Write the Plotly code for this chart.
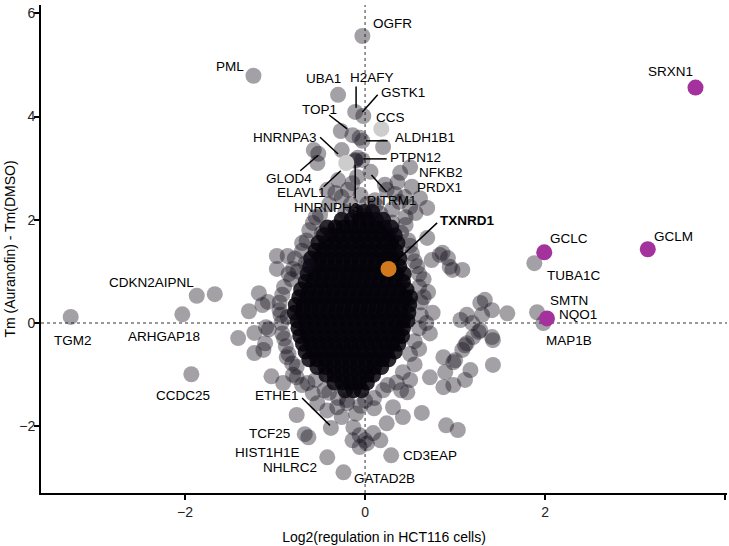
import plotly.graph_objects as go

# ---------------- data ----------------
# labelled proteins
genes = ["OGFR", "PML", "UBA1", "H2AFY", "GSTK1", "CCS", "TOP1", "ALDH1B1", "HNRNPA3",
         "GLOD4", "ELAVL1", "PTPN12", "HNRNPH3", "NFKB2", "PRDX1", "PITRM1", "TXNRD1",
         "GCLC", "TUBA1C", "GCLM", "SRXN1", "SMTN", "NQO1", "MAP1B", "CD3EAP", "GATAD2B",
         "NHLRC2", "HIST1H1E", "TCF25", "ETHE1", "CCDC25", "TGM2", "ARHGAP18", "CDKN2AIPNL"]
gene_x = [-0.03, -1.24, -0.30, -0.11, -0.02, 0.18, -0.27, -0.03, -0.26,
          -0.57, -0.21, -0.03, -0.11, 0.50, 0.52, 0.06, 0.26,
          1.99, 1.88, 3.14, 3.67, 1.91, 2.02, 1.98, 0.29, -0.24,
          -0.42, -0.63, -0.76, -0.38, -1.93, -3.27, -2.03, -1.87]
gene_y = [5.56, 4.79, 4.42, 4.09, 4.01, 3.76, 3.72, 3.53, 3.35,
          3.35, 3.10, 3.16, 3.14, 3.02, 2.64, 2.93, 1.05,
          1.37, 1.16, 1.43, 4.56, 0.21, 0.09, 0.00, -2.56, -2.89,
          -2.60, -2.21, -1.78, -2.03, -0.99, 0.12, 0.17, 0.53]
gene_group = ["grey", "grey", "grey", "grey", "grey", "light", "grey", "grey", "grey",
              "grey", "light", "grey", "grey", "grey", "grey", "grey", "target",
              "nrf2", "grey", "nrf2", "nrf2", "grey", "nrf2", "grey", "grey", "grey",
              "grey", "grey", "grey", "grey", "grey", "grey", "grey", "grey"]

# unlabelled proteins around the main cloud
other_x = [-0.14, -0.06, 0.20, -0.52, -0.53, -0.08, -0.09, -0.14, -0.19, -0.26, -0.33, -0.42,
           -0.30, 0.39, 0.36, 0.44, 0.61, 0.24, 0.56, 0.69, 0.69, 0.86, 0.92, 1.08, 0.94, 0.74,
           0.83, 0.97, -0.11, 0.22, 0.33, -0.05, 0.11, 0.50,
           -0.58, -0.48, -0.98, -0.86, -0.98, -0.80, -0.63, -0.66,
           -1.67, -1.18, -1.08, -1.29, -1.14, -0.94, -1.07, -1.10, -1.23, -1.41, -1.11, -1.23,
           -0.86, -1.04, -0.91, -0.76, -0.81, -1.13, -0.76, -0.87,
           -0.53, -0.42, -0.31, -0.26, -0.13, -0.06, 0.02, -0.14, -0.06, 0.17, -0.20, -0.64,
           -0.58, -0.67,
           0.09, 0.00, 0.24, 0.31, 0.42, 0.63, 0.47, 0.72, 0.90, 1.03, 0.87, 0.98, 1.11, 1.17,
           0.89, 1.00, 0.87, 1.08, 1.11, 1.26, 1.42, 1.42, 1.33, 1.28, 1.58, 1.41, 1.30, 1.13,
           1.06, 1.19, 1.28, 1.41, 1.20, 1.13, 0.98,
           0.65, 0.70, 0.62, 0.75, 0.68, 0.72, 0.60, 0.55, 0.50, 0.40, -0.90, -0.95, -0.92,
           -0.88, -0.80, -0.70, -0.70, -0.75, -0.65, -0.50, -0.40, 0.30, 0.45, 0.50, -0.45,
           -0.30, 0.00, 0.20, 0.10, -0.10, 0.55, 0.60, -0.85,
           0.30, 0.40, 0.48, 0.52, 0.58, 0.45, 0.38,
           -0.55, -0.62, -0.70, -0.78, -0.82, -0.92, -0.95, -0.93, -0.90, -0.85,
           0.60, 0.65, 0.62, 0.60, 0.55, 0.50, 0.42, 0.35,
           -0.55, -0.40, -0.20, 0.10, 0.25, -0.05,
           -0.16, 0.02, 0.12, -0.22, 0.17]
other_y = [3.64, 3.59, 3.41, 3.28, 3.10, 3.20, 2.83, 2.71, 2.58, 2.44, 2.52, 2.58,
           2.77, 2.91, 2.73, 2.44, 2.42, 2.58, 2.13, 2.23, 1.65, 1.36, 1.26, 1.03, 1.09, 1.22,
           1.32, 1.03, 3.16, 2.68, 2.50, 2.48, 2.38, 2.25,
           1.94, 1.74, 1.30, 1.30, 1.05, 1.05, 1.12, 1.16,
           0.56, 0.58, 0.41, 0.23, 0.35, 0.16, -0.12, -0.08, -0.19, -0.29, -0.39, -0.58,
           0.12, -1.03, -1.16, -1.05, -0.78, -0.52, -0.85, -0.66,
           -1.55, -1.69, -1.63, -1.82, -2.02, -2.17, -2.33, -2.27, -2.40, -2.27, -1.49, -1.16,
           -1.36, -2.15,
           -2.13, -2.27, -1.94, -1.63, -1.82, -1.74, -1.34, -1.05, -1.98, -2.07, -1.24, -1.20,
           -1.10, -0.91,
           -0.95, -0.72, -0.66, -0.52, -0.43, -0.17, -0.33, -0.81, 0.45, 0.39, 0.19, 0.25, 0.16,
           0.16, 0.06, 0.00, -0.14, -0.27, -0.27, -0.39, -0.76,
           0.85, 0.60, 0.40, 0.20, 0.00, -0.20, -0.50, -0.80, -1.10, -1.30, 0.70, 0.40, -0.20,
           -0.45, -1.00, -1.20, 1.40, 1.00, 1.60, 2.10, 2.30, 2.20, 1.90, 1.50, -1.30,
           -1.45, -1.50, -1.30, -1.65, -1.75, 1.20, 0.95, 0.95,
           1.95, 1.75, 1.60, 1.35, 1.10, 2.05, 2.35,
           2.05, 1.80, 1.55, 1.25, 0.85, 0.55, 0.25, 0.00, -0.30, -0.60,
           0.70, 0.50, 0.15, -0.10, -0.35, -0.60, -0.95, -1.15,
           -1.10, -1.35, -1.55, -1.45, -1.20, -1.60,
           2.30, 2.30, 2.28, 2.15, 2.12]

# dense core of the cloud, read row by row
core_row_y = [2.15, 2.00, 1.85, 1.70, 1.55, 1.40, 1.25, 1.10, 0.95, 0.80, 0.65, 0.50,
              0.35, 0.20, 0.05, -0.10, -0.25, -0.40, -0.55, -0.70, -0.85, -1.00, -1.15, -1.30]
core_row_x = [
    [-0.10, -0.01, 0.08],
    [-0.26, -0.15, -0.06, 0.03, 0.12, 0.20],
    [-0.42, -0.33, -0.24, -0.15, -0.06, 0.03, 0.12, 0.21, 0.29],
    [-0.46, -0.37, -0.28, -0.19, -0.10, -0.01, 0.08, 0.17, 0.26, 0.33],
    [-0.52, -0.43, -0.34, -0.25, -0.16, -0.07, 0.02, 0.11, 0.20, 0.29, 0.36],
    [-0.55, -0.46, -0.37, -0.28, -0.19, -0.10, -0.01, 0.08, 0.17, 0.26, 0.34],
    [-0.60, -0.51, -0.42, -0.33, -0.24, -0.15, -0.06, 0.03, 0.12, 0.21, 0.30, 0.38],
    [-0.61, -0.52, -0.43, -0.34, -0.25, -0.16, -0.07, 0.02, 0.11, 0.20, 0.29, 0.38],
    [-0.64, -0.55, -0.46, -0.37, -0.28, -0.19, -0.10, -0.01, 0.08, 0.17, 0.26, 0.35, 0.43],
    [-0.66, -0.57, -0.48, -0.39, -0.30, -0.21, -0.12, -0.03, 0.06, 0.15, 0.24, 0.33, 0.42],
    [-0.71, -0.62, -0.53, -0.44, -0.35, -0.26, -0.17, -0.08, 0.01, 0.10, 0.19, 0.28, 0.37, 0.46],
    [-0.73, -0.64, -0.55, -0.46, -0.37, -0.28, -0.19, -0.10, -0.01, 0.08, 0.17, 0.26, 0.35, 0.44, 0.50],
    [-0.77, -0.68, -0.59, -0.50, -0.41, -0.32, -0.23, -0.14, -0.05, 0.04, 0.13, 0.22, 0.31, 0.40, 0.49],
    [-0.78, -0.69, -0.60, -0.51, -0.42, -0.33, -0.24, -0.15, -0.06, 0.03, 0.12, 0.21, 0.30, 0.39, 0.48],
    [-0.75, -0.66, -0.57, -0.48, -0.39, -0.30, -0.21, -0.12, -0.03, 0.06, 0.15, 0.24, 0.33, 0.42, 0.47],
    [-0.74, -0.65, -0.56, -0.47, -0.38, -0.29, -0.20, -0.11, -0.02, 0.07, 0.16, 0.25, 0.34, 0.42],
    [-0.72, -0.63, -0.54, -0.45, -0.36, -0.27, -0.18, -0.09, 0.00, 0.09, 0.18, 0.27, 0.36, 0.41],
    [-0.69, -0.60, -0.51, -0.42, -0.33, -0.24, -0.15, -0.06, 0.03, 0.12, 0.21, 0.30, 0.37],
    [-0.66, -0.57, -0.48, -0.39, -0.30, -0.21, -0.12, -0.03, 0.06, 0.15, 0.24, 0.33],
    [-0.62, -0.53, -0.44, -0.35, -0.26, -0.17, -0.08, 0.01, 0.10, 0.19, 0.26],
    [-0.53, -0.44, -0.35, -0.26, -0.17, -0.08, 0.01, 0.10, 0.18],
    [-0.43, -0.34, -0.25, -0.16, -0.07, 0.02, 0.09],
    [-0.34, -0.25, -0.16, -0.07, 0.02],
    [-0.22, -0.13, -0.04],
]

x_ticks = [-2, 0, 2, 4]
y_ticks = [-2, 0, 2, 4, 6]

# ---------------- layout helpers (label placement) ----------------
label_pos = {
    "OGFR": (0.30, 5.81), "PML": (-1.50, 4.96), "UBA1": (-0.46, 4.73), "H2AFY": (0.08, 4.75),
    "GSTK1": (0.42, 4.46), "CCS": (0.28, 3.99), "TOP1": (-0.51, 4.13), "ALDH1B1": (0.67, 3.59),
    "HNRNPA3": (-0.89, 3.60), "GLOD4": (-0.84, 2.80), "ELAVL1": (-0.71, 2.52),
    "PTPN12": (0.56, 3.20), "HNRNPH3": (-0.43, 2.23), "NFKB2": (0.84, 2.91),
    "PRDX1": (0.83, 2.62), "PITRM1": (0.30, 2.38), "TXNRD1": (1.13, 1.98),
    "GCLC": (2.26, 1.63), "TUBA1C": (2.32, 0.93), "GCLM": (3.43, 1.67), "SRXN1": (3.39, 4.88),
    "SMTN": (2.27, 0.43), "NQO1": (2.37, 0.17), "MAP1B": (2.26, -0.33),
    "CD3EAP": (0.72, -2.56), "GATAD2B": (0.22, -3.00), "NHLRC2": (-0.83, -2.79),
    "HIST1H1E": (-1.08, -2.50), "TCF25": (-1.06, -2.13), "ETHE1": (-0.98, -1.41),
    "CCDC25": (-2.02, -1.41), "TGM2": (-3.24, -0.33), "ARHGAP18": (-2.23, -0.25),
    "CDKN2AIPNL": (-2.37, 0.79),
}
segments = [
    ((-0.10, 4.58), (-0.10, 4.17)), ((0.14, 4.42), (-0.03, 4.09)),
    ((-0.40, 4.03), (-0.20, 3.76)), ((-0.50, 3.60), (-0.30, 3.275)),
    ((-0.72, 2.95), (-0.52, 3.25)), ((-0.46, 2.64), (-0.27, 2.95)),
    ((-0.11, 3.06), (-0.11, 2.42)), ((0.01, 3.53), (0.25, 3.53)),
    ((-0.02, 3.18), (0.24, 3.18)), ((0.07, 2.87), (0.24, 2.54)),
    ((0.36, 1.22), (0.80, 1.94)), ((-0.70, -1.45), (-0.39, -1.98)),
]

PT = "rgb(18,12,26)"
FONT = "Liberation Sans, Arial, sans-serif"

core_x = [v for row in core_row_x for v in row]
core_y = [y for y, row in zip(core_row_y, core_row_x) for _ in row]

fig = go.Figure()
fig.add_trace(go.Scatter(x=core_x, y=core_y, mode="markers",
                         marker=dict(size=16, color="rgb(6,3,10)", opacity=0.85,
                                     line=dict(width=0)),
                         hoverinfo="skip", showlegend=False))
fig.add_trace(go.Scatter(x=other_x, y=other_y, mode="markers",
                         marker=dict(size=16, color=PT, opacity=0.39, line=dict(width=0)),
                         hoverinfo="skip", showlegend=False))

styles = {"grey": (PT, 0.39), "light": ("#CDCDCD", 1.0),
          "target": ("#D2791E", 1.0), "nrf2": ("#A3329C", 1.0)}
for grp in ["grey", "light", "target", "nrf2"]:
    xs = [x for x, g in zip(gene_x, gene_group) if g == grp]
    ys = [y for y, g in zip(gene_y, gene_group) if g == grp]
    names = [n for n, g in zip(genes, gene_group) if g == grp]
    c, o = styles[grp]
    fig.add_trace(go.Scatter(x=xs, y=ys, mode="markers", text=names,
                             marker=dict(size=16, color=c, opacity=o, line=dict(width=0)),
                             showlegend=False))

for (x0, y0), (x1, y1) in segments:
    fig.add_shape(type="line", x0=x0, y0=y0, x1=x1, y1=y1, xref="x", yref="y",
                  line=dict(color="black", width=1.5), layer="above")

fig.add_shape(type="line", x0=0, x1=0, y0=0, y1=1, xref="x", yref="paper",
              line=dict(color="#777777", width=1.5, dash="dot"), layer="below")
fig.add_shape(type="line", x0=0, x1=1, y0=0, y1=0, xref="paper", yref="y",
              line=dict(color="#777777", width=1.5, dash="dot"), layer="below")

for name in genes:
    lx, ly = label_pos[name]
    txt = f"<b>{name}</b>" if name == "TXNRD1" else name
    fig.add_annotation(x=lx, y=ly, text=txt, showarrow=False, xanchor="center",
                       yanchor="middle", font=dict(family=FONT, size=13.5, color="black"))

fig.update_layout(
    width=729, height=546, margin=dict(l=41, r=2, t=5, b=53, autoexpand=False),
    plot_bgcolor="white", paper_bgcolor="white",
    font=dict(family=FONT, size=14, color="black"),
    xaxis=dict(range=[-3.6, 4.02], tickvals=x_ticks, showgrid=False, zeroline=False,
               automargin=False,
               showline=True, linecolor="black", linewidth=2, ticks="outside",
               ticklen=5, tickwidth=1.5, tickcolor="black",
               tickfont=dict(size=14, color="#222"),
               title=dict(text="Log2(regulation in HCT116 cells)", standoff=13,
                          font=dict(size=14))),
    yaxis=dict(range=[-3.29, 6.16], tickvals=y_ticks, showgrid=False, zeroline=False,
               automargin=False, ticklabelstandoff=-4,
               showline=True, linecolor="black", linewidth=2, ticks="outside",
               ticklen=5, tickwidth=1.5, tickcolor="black",
               tickfont=dict(size=14, color="#222"),
               title=dict(text="Tm (Auranofin) - Tm(DMSO)", standoff=0,
                          font=dict(size=14))),
)

fig.write_html("out.html", config={"displayModeBar": False},
               post_script="document.body.style.margin='0';")
